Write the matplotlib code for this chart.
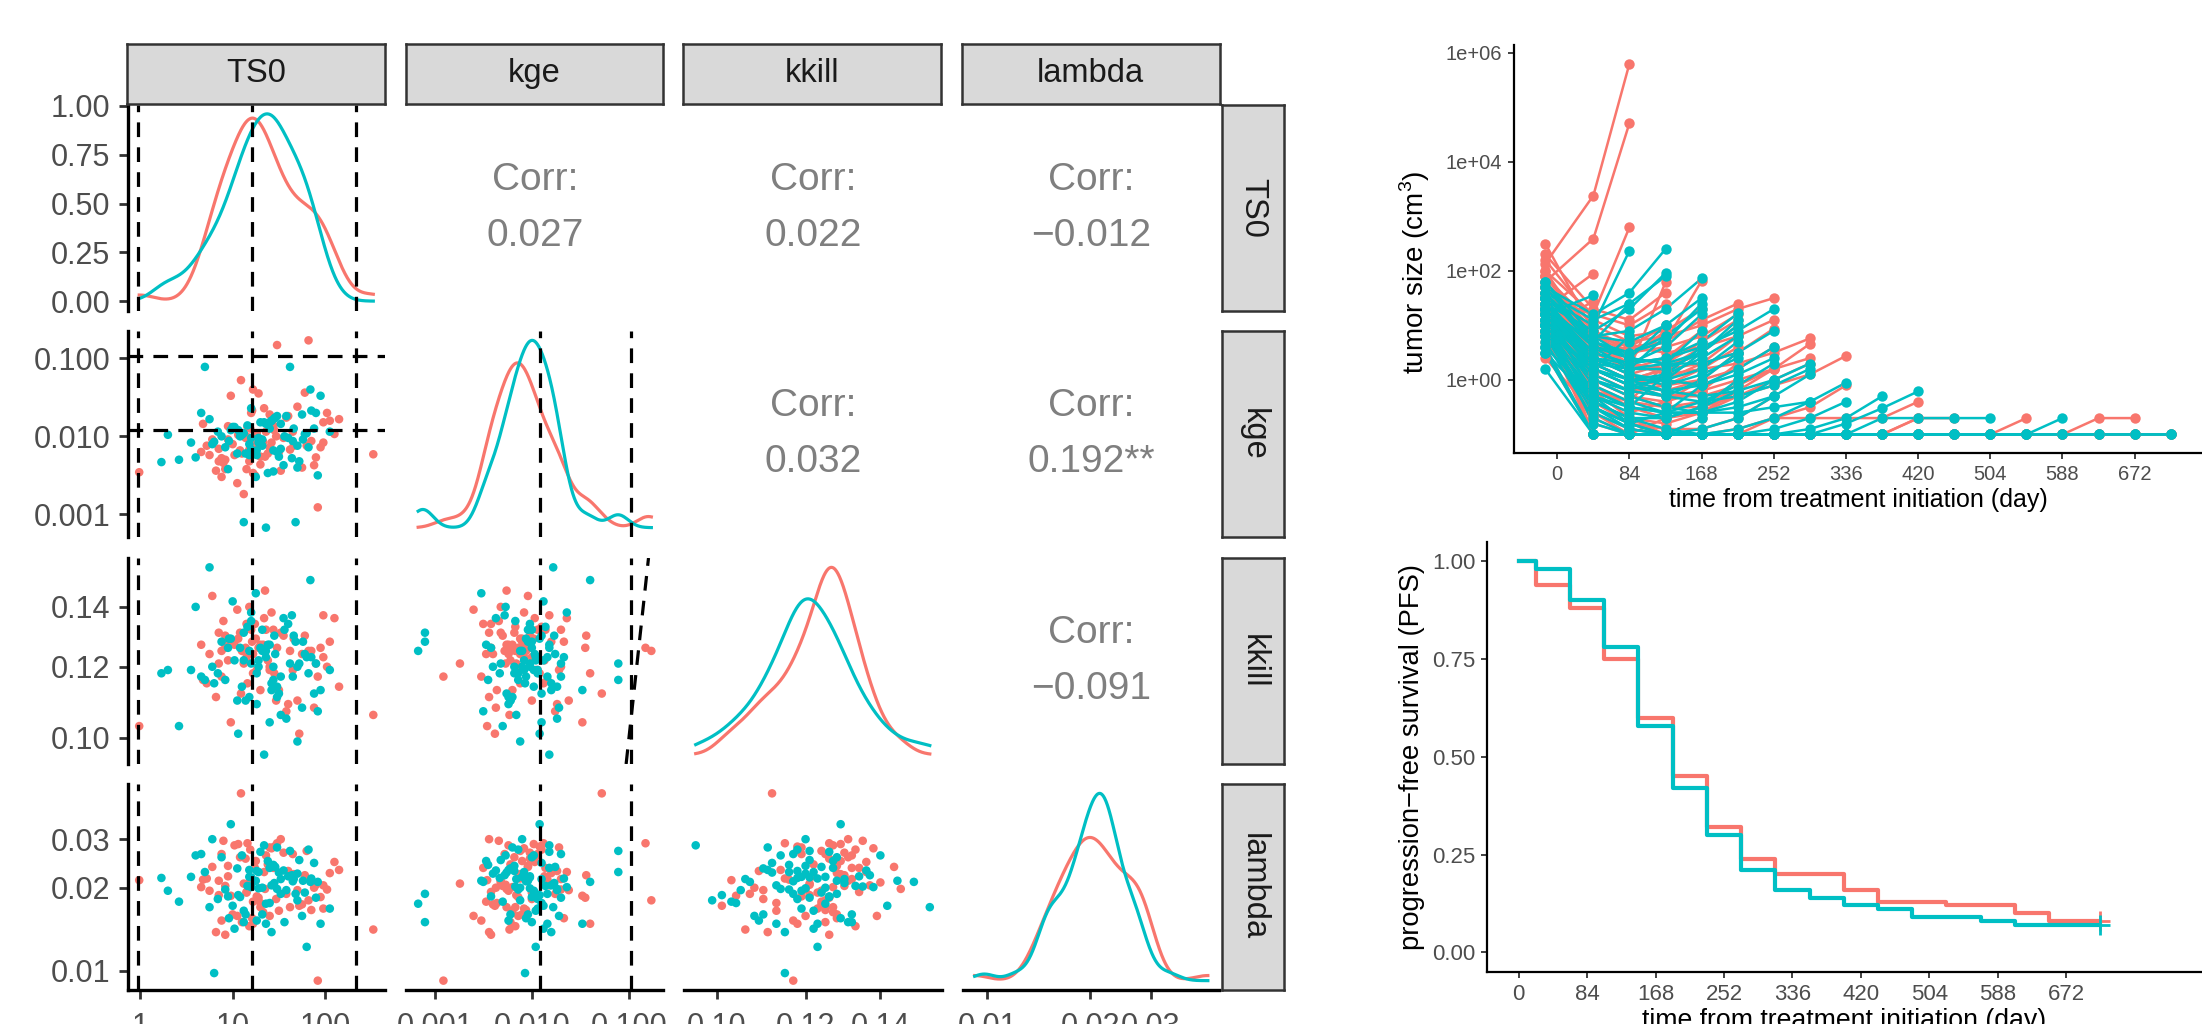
import numpy as np
import matplotlib
matplotlib.use("Agg")
import matplotlib.pyplot as plt
from matplotlib.ticker import NullLocator

plt.rcParams['font.family'] = ['Liberation Sans', 'DejaVu Sans']
plt.rcParams['mathtext.fontset'] = 'custom'
plt.rcParams['mathtext.rm'] = 'Liberation Sans'

RED = '#F8766D'
TEAL = '#00BFC4'

# ------------------------------------------------------------------ data
variables = ['TS0', 'kge', 'kkill', 'lambda']

red_TS0_log10 = [-0.01, 2.52, 1.21, 0.85, 1.45, 1.62, 1.15, 1.09, 1.33, 1.90,
                 1.05, 0.72, 1.28, 1.55, 1.88, 0.95, 1.18, 1.40, 2.10, 1.22,
                 1.25, 1.70, 1.02, 0.88, 1.36, 1.82, 1.12, 0.78, 1.50, 2.05,
                 1.15, 0.90, 1.60, 1.95, 0.92, 1.22, 1.42, 1.75, 0.68, 1.08,
                 1.30, 2.02, 1.48, 0.82, 1.19, 1.66, 0.98, 1.38, 1.85, 1.18,
                 1.26, 1.52, 2.15, 1.00, 0.75, 1.34, 1.72, 1.14, 0.85, 1.44,
                 1.92, 1.06, 0.88, 1.58, 1.24, 1.98, 0.66, 1.16, 1.78, 1.40,
                 0.95, 1.30, 1.98, 1.10, 1.65, 1.20, 0.92, 1.47, 1.80, 1.35]
red_kge_log10 = [-2.46, -2.23, -1.67, -2.32, -1.92, -2.17, -2.42, -1.28, -2.07, -2.27,
                 -2.60, -2.12, -1.45, -2.02, -2.37, -1.87, -2.17, -1.72, -1.97, -2.47,
                 -2.10, -1.62, -2.24, -2.52, -1.94, -0.77, -2.74, -2.04, -2.20, -1.80,
                 -2.00, -2.34, -1.74, -2.14, -2.30, -1.40, -2.08, -2.40, -1.84, -2.18,
                 -2.26, -1.70, -0.83, -2.44, -1.90, -2.12, -1.48, -2.22, -2.06, -2.32,
                 -1.96, -2.44, -1.78, -2.10, -2.24, -1.64, -2.38, -2.02, -2.16, -1.86,
                 -2.91, -1.98, -2.28, -1.76, -2.50, -2.08, -2.20, -1.88, -1.44, -2.14,
                 -2.04, -2.36, -1.82, -2.22, -1.94, -1.70, -2.42, -2.00, -2.12, -2.26]
red_kkill = [0.103, 0.106, 0.128, 0.131, 0.118, 0.125, 0.134, 0.112, 0.127, 0.121,
             0.139, 0.115, 0.126, 0.130, 0.108, 0.122, 0.133, 0.119, 0.136, 0.124,
             0.129, 0.110, 0.127, 0.117, 0.132, 0.125, 0.121, 0.144, 0.113, 0.128,
             0.123, 0.135, 0.109, 0.126, 0.130, 0.118, 0.138, 0.124, 0.116, 0.131,
             0.127, 0.120, 0.126, 0.111, 0.133, 0.129, 0.104, 0.122, 0.125, 0.140,
             0.119, 0.131, 0.114, 0.128, 0.124, 0.136, 0.101, 0.126, 0.121, 0.132,
             0.117, 0.129, 0.125, 0.107, 0.134, 0.123, 0.127, 0.115, 0.130, 0.120,
             0.128, 0.113, 0.137, 0.125, 0.119, 0.132, 0.126, 0.110, 0.124, 0.146]
red_lambda = [0.0213, 0.0141, 0.0155, 0.0212, 0.0282, 0.0170, 0.0193, 0.0440, 0.0163, 0.0205,
              0.0158, 0.0216, 0.0184, 0.0268, 0.0200, 0.0220, 0.0145, 0.0280, 0.0248, 0.0178,
              0.0250, 0.0196, 0.0285, 0.0152, 0.0262, 0.0180, 0.0207, 0.0238, 0.0165, 0.0226,
              0.0192, 0.0296, 0.0230, 0.0185, 0.0203, 0.0148, 0.0278, 0.0174, 0.0214, 0.0258,
              0.0170, 0.0197, 0.0290, 0.0138, 0.0275, 0.0224, 0.0187, 0.0243, 0.0166, 0.0209,
              0.0186, 0.0300, 0.0232, 0.0160, 0.0195, 0.0228, 0.0172, 0.0255, 0.0188, 0.0236,
              0.0092, 0.0288, 0.0265, 0.0190, 0.0236, 0.0168, 0.0201, 0.0290, 0.0222, 0.0158,
              0.0240, 0.0176, 0.0204, 0.0150, 0.0265, 0.0215, 0.0135, 0.0182, 0.0272, 0.0198]

teal_TS0_log10 = [0.23, 1.78, 1.05, 1.45, 0.80, 1.62, 1.20, 1.88, 0.95, 1.75,
                  1.28, 0.60, 1.52, 1.12, 1.85, 1.70, 0.88, 1.42, 1.25, 2.05,
                  1.18, 1.58, 0.70, 1.32, 1.48, 1.02, 1.68, 1.82, 0.42, 1.40,
                  1.10, 1.55, 1.90, 1.26, 0.98, 1.36, 1.65, 0.75, 1.44, 1.16,
                  1.92, 1.80, 0.55, 1.20, 1.50, 1.08, 1.34, 1.72, 1.66, 0.92,
                  1.46, 1.14, 1.60, 0.84, 1.38, 1.95, 1.28, 1.00, 1.52, 0.30,
                  1.76, 1.42, 1.70, 1.06, 1.32, 0.66, 1.56, 1.18, 1.36, 1.84,
                  1.26, 0.96, 1.48, 1.12, 1.64, 1.40, 0.78, 1.30, 1.44, 1.20]
teal_kge_log10 = [-2.33, -1.97, -2.22, -1.77, -2.07, -1.11, -2.17, -1.90, -2.42, -1.72,
                  -2.02, -2.27, -1.84, -3.10, -1.67, -2.12, -2.00, -1.80, -2.52, -1.94,
                  -2.10, -1.74, -1.11, -2.04, -2.20, -1.88, -3.10, -2.14, -2.30, -1.82,
                  -1.98, -2.37, -1.70, -2.24, -1.92, -3.17, -2.06, -1.78, -2.18, -1.86,
                  -2.50, -1.96, -2.08, -1.64, -2.26, -2.00, -1.82, -2.32, -1.90, -2.14,
                  -1.76, -2.22, -2.02, -1.94, -2.47, -1.48, -2.08, -1.88, -2.16, -1.98,
                  -2.04, -1.80, -2.40, -1.92, -2.12, -1.70, -2.00, -2.24, -1.84, -1.40,
                  -2.18, -2.06, -1.74, -1.96, -2.28, -1.90, -2.10, -1.82, -2.45, -2.02]
teal_kkill = [0.118, 0.124, 0.110, 0.130, 0.115, 0.121, 0.135, 0.112, 0.126, 0.108,
              0.120, 0.140, 0.117, 0.131, 0.123, 0.099, 0.128, 0.113, 0.145, 0.119,
              0.125, 0.105, 0.116, 0.132, 0.111, 0.122, 0.128, 0.118, 0.103, 0.127,
              0.114, 0.136, 0.121, 0.109, 0.129, 0.125, 0.117, 0.155, 0.120, 0.133,
              0.107, 0.123, 0.119, 0.138, 0.112, 0.126, 0.0957, 0.121, 0.130, 0.116,
              0.124, 0.110, 0.134, 0.118, 0.127, 0.113, 0.122, 0.142, 0.106, 0.119,
              0.128, 0.115, 0.120, 0.101, 0.125, 0.117, 0.132, 0.111, 0.123, 0.150,
              0.118, 0.129, 0.114, 0.122, 0.137, 0.104, 0.120, 0.126, 0.116, 0.121]
teal_lambda = [0.0217, 0.0192, 0.0235, 0.0208, 0.0098, 0.0272, 0.0202, 0.0246, 0.0186, 0.0158,
               0.0199, 0.0262, 0.0190, 0.0150, 0.0216, 0.0180, 0.0258, 0.0204, 0.0212, 0.0168,
               0.0219, 0.0196, 0.0228, 0.0160, 0.0280, 0.0142, 0.0190, 0.0275, 0.0178, 0.0236,
               0.0262, 0.0231, 0.0184, 0.0152, 0.0340, 0.0175, 0.0211, 0.0170, 0.0240, 0.0203,
               0.0210, 0.0122, 0.0219, 0.0201, 0.0227, 0.0185, 0.0285, 0.0252, 0.0215, 0.0197,
               0.0238, 0.0160, 0.0220, 0.0182, 0.0250, 0.0148, 0.0228, 0.0172, 0.0215, 0.0195,
               0.0212, 0.0138, 0.0225, 0.0188, 0.0200, 0.0265, 0.0150, 0.0232, 0.0148, 0.0210,
               0.0230, 0.0155, 0.0198, 0.0165, 0.0222, 0.0176, 0.0300, 0.0270, 0.0242, 0.0218]

corr_cells = [(0, 1), (0, 2), (0, 3), (1, 2), (1, 3), (2, 3)]
corr_labels = ['0.027', '0.022', '\u22120.012', '0.032', '0.192**', '\u22120.091']

ts0_ref_lines = [0.94, 16.3, 213.0]
kge_ref_lines = [0.0120, 0.106]

# tumour size trajectories: log10(size) at successive visits
visit_days = [-14, 42, 84, 126, 168, 210, 252, 294, 336, 378, 420, 462, 504,
              546, 588, 630, 672, 714]
red_traj = [
    "1.3 1.95", "0.9 1.45",
    "2.13 3.38 5.8", "1.8 2.59 4.71", "1.5 1.2 2.8",
    "2.5 0.9 0.2 1.79", "1.7 0.6 0.4 0.9", "1.1 -0.2 -0.4 0.3", "2.0 1.2 1.0 1.4",
    "0.6 -1 -1 -0.7", "1.2 0.5 0.6 1.0", "2.3 1.3 1.1 1.6",
    "1.9 0.8 0.5 0.7 1.82", "1.4 0.3 0.0 0.2 0.6", "1.0 -0.3 -0.6 -0.4 0.0",
    "2.2 1.1 0.8 0.9 1.3", "1.6 0.5 0.2 0.4 0.9", "0.8 -0.7 -1 -1 -0.7",
    "1.0 0.3 0.0 0.2 0.5",
    "1.5 0.4 0.1 0.0 0.3 0.8", "1.2 0.0 -0.3 -0.4 -0.2 0.3", "1.8 0.9 0.5 0.6 0.8 1.2",
    "0.7 -0.4 -0.7 -0.8 -0.6 -0.2", "2.0 0.7 0.3 0.2 0.5 1.0", "1.3 0.2 -0.1 -0.2 0.0 0.5",
    "1.6 0.4 0.1 0.3 0.7 1.1", "0.9 0.1 -0.2 -0.1 0.2 0.6", "1.7 0.8 0.6 0.7 1.1 1.4",
    "1.6 0.6 0.3 0.2 0.3 0.5 0.94", "1.1 -0.1 -0.4 -0.5 -0.4 -0.2 0.2",
    "1.9 0.9 0.6 0.5 0.6 0.8 1.1", "0.9 -0.5 -0.8 -0.9 -0.9 -0.7 -0.3",
    "1.4 0.3 0.0 -0.1 0.0 0.2 0.6", "1.9 1.0 0.7 0.8 1.0 1.3 1.5",
    "1.7 0.6 0.3 0.1 0.2 0.3 0.5 0.76", "1.2 0.1 -0.2 -0.3 -0.3 -0.1 0.2 0.66",
    "1.5 0.2 -0.1 -0.3 -0.2 0.0 0.2 0.4", "1.4 -0.1 -0.5 -0.7 -0.6 -0.3 0.0 0.3",
    "1.3 0.0 -0.3 -0.5 -0.5 -0.3 -0.1 0.1 0.44", "1.0 -0.6 -0.9 -1 -1 -0.9 -0.7 -0.5 -0.1",
    "0.8 -0.8 -1 -1 -1 -1 -0.7 -0.7 -0.7 -0.7 -0.4",
    "1.1 -0.4 -0.8 -1 -1 -1 -1 -1 -1 -1 -0.7",
    "0.9 -1 -1 -1 -1 -1 -1 -1 -1 -1 -0.7 -0.7",
    "0.5 -1 -1 -1 -1 -1 -1 -1 -1 -1 -1 -1 -1 -0.7",
    "1.2 -1 -1 -1 -1 -1 -1 -1 -1 -1 -1 -1 -1 -1 -1 -0.7 -0.7",
    "1.0 -1 -1 -1 -1 -1 -1 -1 -1 -1 -1 -1 -1 -1 -1 -1 -1 -1",
    "0.4 -0.6 -1 -1 -1 -1 -1 -1 -1 -1 -1 -1 -1 -1 -1 -1 -1 -1",
    "1.4 -0.2 -0.7 -1 -1 -1 -1 -1 -1 -1 -1 -1 -1 -1 -1 -1 -1 -1",
]
teal_traj = [
    "1.2 1.55",
    "1.5 1.0 2.37", "1.3 0.7 1.4", "0.9 0.2 0.8",
    "1.7 1.2 1.6 2.4", "1.4 0.9 1.3 1.96", "1.1 0.3 0.2 0.8", "1.8 0.6 0.4 1.0",
    "0.6 -0.3 -0.5 0.1", "1.6 1.1 1.4 1.9",
    "1.5 0.8 0.9 1.3 1.86", "1.3 0.4 0.3 0.6 1.2", "1.0 0.0 -0.2 0.1 0.6",
    "1.7 0.7 0.5 0.7 1.4", "1.2 0.2 -0.1 0.0 0.5", "0.8 -0.5 -0.8 -0.6 -0.1",
    "1.6 0.6 0.2 0.3 0.9", "0.2 -1 -1 -1 -0.7", "1.4 0.6 0.5 0.8 1.3",
    "1.5 0.8 0.7 1.0 1.5",
    "1.4 0.5 0.3 0.4 0.7 1.22", "1.1 0.1 -0.2 -0.3 0.0 0.5", "1.8 0.8 0.4 0.3 0.5 1.0",
    "0.9 -0.3 -0.6 -0.7 -0.5 0.0", "1.3 0.3 0.0 0.0 0.2 0.7", "1.5 0.4 0.1 -0.1 0.1 0.4",
    "1.0 0.2 0.0 0.1 0.4 0.8", "1.2 0.4 0.2 0.2 0.5 1.1", "0.5 -0.4 -0.7 -0.7 -0.5 -0.2",
    "1.2 0.2 -0.1 -0.2 -0.1 0.2 0.6", "1.6 0.7 0.4 0.3 0.3 0.5 0.9",
    "1.0 -0.2 -0.5 -0.6 -0.6 -0.4 0.0", "1.4 0.4 0.1 0.0 -0.1 0.1 0.4",
    "0.7 -0.7 -1 -1 -0.9 -0.7 -0.3", "0.8 -0.2 -0.5 -0.6 -0.4 -0.1 0.3",
    "1.3 0.5 0.3 0.4 0.6 0.9 1.3",
    "1.3 0.2 -0.1 -0.3 -0.4 -0.3 -0.1 0.2", "1.1 -0.1 -0.4 -0.6 -0.6 -0.5 -0.3 0.1",
    "1.5 0.3 0.0 -0.2 -0.3 -0.2 0.0 0.3", "0.9 -0.5 -0.8 -1 -1 -0.9 -0.7 -0.4",
    "1.2 0.0 -0.3 -0.5 -0.6 -0.6 -0.5 -0.4 -0.05",
    "1.0 -0.4 -0.7 -0.9 -1 -1 -0.9 -0.7 -0.4",
    "0.8 -0.6 -0.9 -1 -1 -1 -1 -0.9 -0.7 -0.3",
    "1.1 -0.5 -0.9 -1 -1 -1 -1 -1 -0.8 -0.52 -0.21",
    "0.6 -1 -1 -1 -1 -1 -1 -1 -1 -0.7 -0.7 -0.7 -0.7",
    "1.0 -0.8 -1 -1 -1 -1 -1 -1 -1 -1 -1 -1 -1 -1 -0.7",
    "0.5 -1 -1 -1 -1 -1 -1 -1 -1 -1 -1 -1 -1 -1 -1 -1 -1 -1",
    "1.3 -0.3 -0.8 -1 -1 -1 -1 -1 -1 -1 -1 -1 -1 -1 -1 -1 -1 -1",
]

# Kaplan-Meier progression-free survival
red_km_time = [0, 21, 63, 105, 147, 189, 231, 273, 315, 399, 441, 525, 609, 651, 714]
red_km_surv = [1.00, 0.94, 0.88, 0.75, 0.60, 0.45, 0.32, 0.24, 0.20, 0.16, 0.13, 0.12, 0.10, 0.08, 0.08]
teal_km_time = [0, 21, 63, 105, 147, 189, 231, 273, 315, 357, 399, 441, 483, 567, 609, 714]
teal_km_surv = [1.00, 0.98, 0.90, 0.78, 0.58, 0.42, 0.30, 0.21, 0.16, 0.14, 0.12, 0.11, 0.09, 0.08, 0.07, 0.07]

# ------------------------------------------------------------------ figure
W, H = 2202, 1024
fig = plt.figure(figsize=(W / 100, H / 100), dpi=100)


def add_ax(x0, y0, x1, y1):
    return fig.add_axes([x0 / W, 1 - y1 / H, (x1 - x0) / W, (y1 - y0) / H])


groups = [
    (RED, {'TS0': 10 ** np.array(red_TS0_log10), 'kge': 10 ** np.array(red_kge_log10),
           'kkill': np.array(red_kkill), 'lambda': np.array(red_lambda)}),
    (TEAL, {'TS0': 10 ** np.array(teal_TS0_log10), 'kge': 10 ** np.array(teal_kge_log10),
            'kkill': np.array(teal_kkill), 'lambda': np.array(teal_lambda)}),
]

log_rng = {}
log_lim = {}
for v in variables:
    allv = np.log10(np.concatenate([g[1][v] for g in groups]))
    lo, hi = allv.min(), allv.max()
    r = hi - lo
    log_rng[v] = (lo, hi)
    log_lim[v] = (lo - 0.05 * r, hi + 0.05 * r)

ticks = {
    'TS0': ([1, 10, 100], ['1', '10', '100']),
    'kge': ([0.001, 0.01, 0.1], ['0.001', '0.010', '0.100']),
    'kkill': ([0.10, 0.12, 0.14], ['0.10', '0.12', '0.14']),
    'lambda': ([0.01, 0.02, 0.03], ['0.01', '0.02', '0.03']),
}


def kde(vals, grid):
    n = len(vals)
    sd = vals.std(ddof=1)
    q75, q25 = np.percentile(vals, [75, 25])
    bw = 0.9 * min(sd, (q75 - q25) / 1.34) * n ** (-0.2)
    z = (grid[:, None] - vals[None, :]) / bw
    return np.exp(-0.5 * z ** 2).sum(axis=1) / (n * bw * np.sqrt(2 * np.pi))


col_x = [(127.5, 385), (406.5, 663), (684, 941.5), (963, 1219.5)]
row_y = [(104.5, 310.5), (331, 537), (558, 764), (784, 990)]
DASH = (0, (4.6, 3.2))
TICK_COL = '#4D4D4D'

for i, vy in enumerate(variables):
    for j, vx in enumerate(variables):
        ax = add_ax(col_x[j][0], row_y[i][0], col_x[j][1], row_y[i][1])
        ax.set_facecolor('none')
        for sp in ax.spines.values():
            sp.set_visible(False)
        ax.tick_params(which='both', left=False, bottom=False,
                       labelleft=False, labelbottom=False)
        if i == j:
            ax.set_xscale('log')
            ax.set_xlim(10 ** log_lim[vx][0], 10 ** log_lim[vx][1])
            grid = np.linspace(log_rng[vx][0], log_rng[vx][1], 512)
            mx = 0
            for col, d in groups:
                dens = kde(np.log10(d[vx]), grid)
                mx = max(mx, dens.max())
                ax.plot(10 ** grid, dens, color=col, lw=2.3, zorder=2)
            ax.set_ylim(-0.05 * mx, 1.05 * mx)
        elif i > j:
            ax.set_xscale('log')
            ax.set_yscale('log')
            ax.set_xlim(10 ** log_lim[vx][0], 10 ** log_lim[vx][1])
            ax.set_ylim(10 ** log_lim[vy][0], 10 ** log_lim[vy][1])
            for col, d in groups:
                ax.scatter(d[vx], d[vy], s=38, color=col, edgecolors='none', zorder=2)
        else:
            k = corr_cells.index((i, j))
            ax.set_xlim(0, 1)
            ax.set_ylim(0, 1)
            ax.text(0.5, 0.5 + 28 / 206, 'Corr:', ha='center', va='center',
                    fontsize=28, color='#7F7F7F')
            ax.text(0.5, 0.5 - 28 / 206, corr_labels[k], ha='center', va='center',
                    fontsize=28, color='#7F7F7F')

        # reference lines
        if i >= j:
            if j == 0:
                for xv in ts0_ref_lines:
                    ax.axvline(xv, color='black', lw=2.3, ls=DASH, zorder=3)
            if j == 1:
                for xv in kge_ref_lines:
                    ax.axvline(xv, color='black', lw=2.3, ls=DASH, zorder=3)
            if i == 1 and j == 0:
                for yv in kge_ref_lines:
                    ax.axhline(yv, color='black', lw=2.3, ls=DASH, zorder=3)
            if i == 2 and j == 1:
                lo, hi = 10 ** log_lim['kkill'][0], 10 ** log_lim['kkill'][1]
                ax.plot([lo, hi], [lo, hi], color='black', lw=2.3, ls=DASH, zorder=3)

        ax.xaxis.set_minor_locator(NullLocator())
        ax.yaxis.set_minor_locator(NullLocator())
        if j == 0:
            ax.spines['left'].set_visible(True)
            ax.spines['left'].set_linewidth(2.4)
            ax.spines['left'].set_color('black')
            if i == 0:
                ax.set_yticks([0, 0.25, 0.5, 0.75, 1.0],
                              ['0.00', '0.25', '0.50', '0.75', '1.00'])
            else:
                ax.set_yticks(ticks[vy][0], ticks[vy][1])
                ax.yaxis.set_minor_locator(NullLocator())
            ax.tick_params(axis='y', which='major', left=True, labelleft=True,
                           length=6.5, width=2, color='#333333', pad=6,
                           labelsize=22, labelcolor=TICK_COL)
        if i == 3:
            ax.spines['bottom'].set_visible(True)
            ax.spines['bottom'].set_linewidth(2.4)
            ax.spines['bottom'].set_color('black')
            ax.set_xticks(ticks[vx][0], ticks[vx][1])
            ax.xaxis.set_minor_locator(NullLocator())
            ax.tick_params(axis='x', which='major', bottom=True, labelbottom=True,
                           length=6.5, width=2, color='#333333', pad=9,
                           labelsize=22, labelcolor=TICK_COL)


def strip(x0, y0, x1, y1, label, rot=0):
    s = add_ax(x0, y0, x1, y1)
    s.set_facecolor('#D9D9D9')
    for sp in s.spines.values():
        sp.set_color('#333333')
        sp.set_linewidth(1.8)
    s.set_xticks([])
    s.set_yticks([])
    s.text(0.5, 0.5, label, ha='center', va='center', rotation=rot,
           fontsize=23.5, color='#1A1A1A', transform=s.transAxes)


for j, v in enumerate(variables):
    strip(col_x[j][0] - 1, 43.5, col_x[j][1], 103.5, v)
for i, v in enumerate(variables):
    strip(1222, row_y[i][0], 1284, row_y[i][1], v, rot=-90)

# ------------------------------------------------------------------ tumour size plot
ax_t = add_ax(1514, 45, 2202, 453)
ax_t.set_yscale('log')
all_t = []
all_v = []
for trajs in (red_traj, teal_traj):
    for s in trajs:
        vals = np.array(s.split(), float)
        all_t += visit_days[:len(vals)]
        all_v += list(vals)
tr = max(all_t) - min(all_t)
vr = max(all_v) - min(all_v)
ax_t.set_xlim(min(all_t) - 0.05 * tr, max(all_t) + 0.05 * tr)
ax_t.set_ylim(10 ** (min(all_v) - 0.05 * vr), 10 ** (max(all_v) + 0.05 * vr))
for col, trajs in ((RED, red_traj), (TEAL, teal_traj)):
    for s in trajs:
        vals = np.array(s.split(), float)
        ax_t.plot(visit_days[:len(vals)], 10 ** vals, color=col, lw=1.8, zorder=2)
for col, trajs in ((RED, red_traj), (TEAL, teal_traj)):
    for s in trajs:
        vals = np.array(s.split(), float)
        ax_t.plot(visit_days[:len(vals)], 10 ** vals, ls='none', marker='o',
                  ms=7.5, mec='none', color=col, zorder=3)
ax_t.set_yticks([1, 1e2, 1e4, 1e6], ['1e+00', '1e+02', '1e+04', '1e+06'])
ax_t.yaxis.set_minor_locator(NullLocator())
ax_t.set_xticks(np.arange(0, 673, 84))
for side in ('top', 'right'):
    ax_t.spines[side].set_visible(False)
for side in ('left', 'bottom'):
    ax_t.spines[side].set_linewidth(1.6)
    ax_t.spines[side].set_color('black')
ax_t.tick_params(length=4.4, width=1.3, color='#333333', pad=4,
                 labelsize=14.5, labelcolor=TICK_COL)
ax_t.set_ylabel('tumor size (cm$^3$)', fontsize=20, color='black')
ax_t.yaxis.set_label_coords((1432 - 1514) / 688, (453 - 272) / 408)
ax_t.set_xlabel('time from treatment initiation (day)', fontsize=18, color='black',
                va='top')
ax_t.xaxis.set_label_coords(0.5, (453 - 488) / 408)

# ------------------------------------------------------------------ KM plot
ax_b = add_ax(1487, 541.7, 2202, 972)
ax_b.set_xlim(-38.8, 838.6)
ax_b.set_ylim(-0.05, 1.05)
for col, tt, ss in ((RED, red_km_time, red_km_surv), (TEAL, teal_km_time, teal_km_surv)):
    ax_b.step(tt, ss, where='post', color=col, lw=3, zorder=2)
    ax_b.plot([tt[-1]], [ss[-1]], marker='+', ms=14, mew=2, color=col, zorder=3)
ax_b.set_yticks([0, 0.25, 0.5, 0.75, 1.0], ['0.00', '0.25', '0.50', '0.75', '1.00'])
ax_b.set_xticks(np.arange(0, 673, 84))
for side in ('top', 'right'):
    ax_b.spines[side].set_visible(False)
for side in ('left', 'bottom'):
    ax_b.spines[side].set_linewidth(1.6)
    ax_b.spines[side].set_color('black')
ax_b.tick_params(length=4.4, width=1.3, color='#333333', pad=4,
                 labelsize=16, labelcolor=TICK_COL)
ax_b.set_ylabel('progression\u2212free survival (PFS)', fontsize=19.7, color='black')
ax_b.yaxis.set_label_coords((1425 - 1487) / 715, 0.5)
ax_b.set_xlabel('time from treatment initiation (day)', fontsize=19.2, color='black',
                va='top')
ax_b.xaxis.set_label_coords(0.5, (972 - 1008) / 430.3)

fig.savefig('out.png', dpi=100)
